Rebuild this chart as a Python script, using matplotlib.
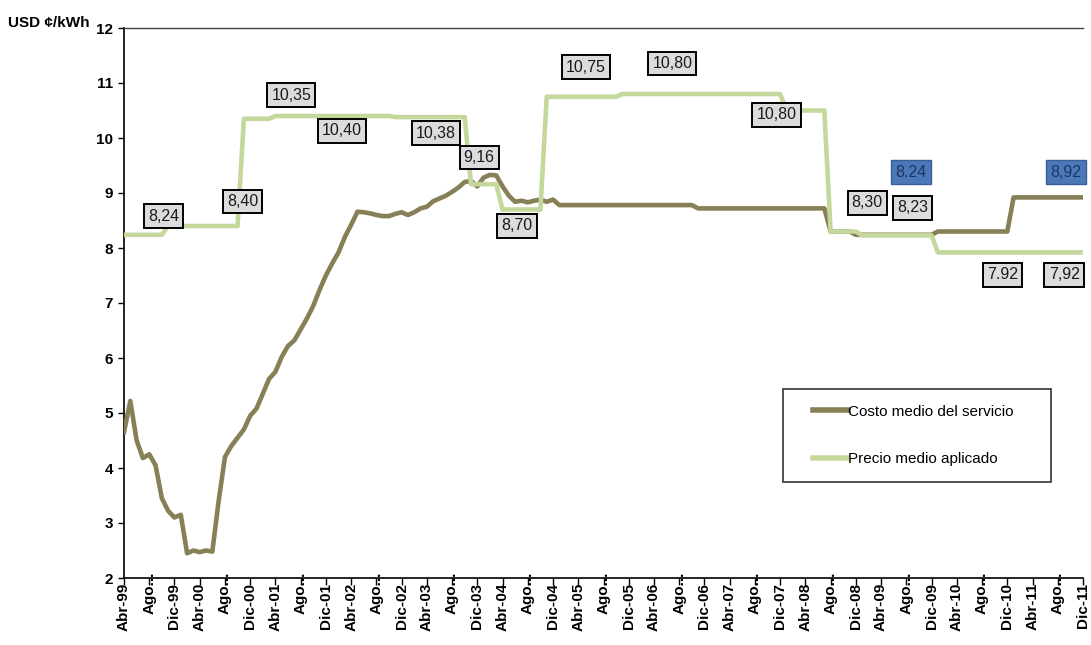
import matplotlib
matplotlib.use("Agg")
import matplotlib.pyplot as plt
from matplotlib.transforms import blended_transform_factory
from matplotlib.legend_handler import HandlerLine2D

# ---------------- data (monthly, Abr-99 .. Dic-11) ----------------
costo = [
    4.65, 5.22, 4.50, 4.18, 4.25, 4.05, 3.45, 3.22, 3.10,                  # 1999 Abr-Dic
    3.15, 2.45, 2.50, 2.47, 2.50, 2.48, 3.40, 4.20, 4.40, 4.55, 4.70, 4.95,  # 2000
    5.08, 5.35, 5.62, 5.75, 6.02, 6.22, 6.32, 6.52, 6.72, 6.95, 7.24, 7.50,  # 2001
    7.72, 7.92, 8.20, 8.42, 8.66, 8.65, 8.63, 8.60, 8.58, 8.58, 8.62, 8.65,  # 2002
    8.60, 8.65, 8.72, 8.75, 8.85, 8.90, 8.95, 9.02, 9.10, 9.20, 9.22, 9.12,  # 2003
    9.28, 9.33, 9.32, 9.12, 8.95, 8.84, 8.86, 8.83, 8.86, 8.88, 8.84, 8.88,  # 2004
    8.78, 8.78, 8.78, 8.78, 8.78, 8.78, 8.78, 8.78, 8.78, 8.78, 8.78, 8.78,  # 2005
    8.78, 8.78, 8.78, 8.78, 8.78, 8.78, 8.78, 8.78, 8.78, 8.78, 8.72, 8.72,  # 2006
    8.72, 8.72, 8.72, 8.72, 8.72, 8.72, 8.72, 8.72, 8.72, 8.72, 8.72, 8.72,  # 2007
    8.72, 8.72, 8.72, 8.72, 8.72, 8.72, 8.72, 8.30, 8.30, 8.30, 8.30, 8.24,  # 2008
    8.24, 8.24, 8.24, 8.24, 8.24, 8.24, 8.24, 8.24, 8.24, 8.24, 8.24, 8.24,  # 2009
    8.30, 8.30, 8.30, 8.30, 8.30, 8.30, 8.30, 8.30, 8.30, 8.30, 8.30, 8.30,  # 2010
    8.92, 8.92, 8.92, 8.92, 8.92, 8.92, 8.92, 8.92, 8.92, 8.92, 8.92, 8.92,  # 2011
]

precio = [
    8.24, 8.24, 8.24, 8.24, 8.24, 8.24, 8.24, 8.40, 8.40,                           # 1999 Abr-Dic
    8.40, 8.40, 8.40, 8.40, 8.40, 8.40, 8.40, 8.40, 8.40, 8.40, 10.35, 10.35,         # 2000
    10.35, 10.35, 10.35, 10.40, 10.40, 10.40, 10.40, 10.40, 10.40, 10.40, 10.40, 10.40,  # 2001
    10.40, 10.40, 10.40, 10.40, 10.40, 10.40, 10.40, 10.40, 10.40, 10.40, 10.38, 10.38,  # 2002
    10.38, 10.38, 10.38, 10.38, 10.38, 10.38, 10.38, 10.38, 10.38, 10.38, 9.16, 9.16,    # 2003
    9.16, 9.16, 9.16, 8.70, 8.70, 8.70, 8.70, 8.70, 8.70, 8.70, 10.75, 10.75,          # 2004
    10.75, 10.75, 10.75, 10.75, 10.75, 10.75, 10.75, 10.75, 10.75, 10.75, 10.80, 10.80,  # 2005
    10.80, 10.80, 10.80, 10.80, 10.80, 10.80, 10.80, 10.80, 10.80, 10.80, 10.80, 10.80,  # 2006
    10.80, 10.80, 10.80, 10.80, 10.80, 10.80, 10.80, 10.80, 10.80, 10.80, 10.80, 10.80,  # 2007
    10.50, 10.50, 10.50, 10.50, 10.50, 10.50, 10.50, 8.30, 8.30, 8.30, 8.30, 8.30,     # 2008
    8.23, 8.23, 8.23, 8.23, 8.23, 8.23, 8.23, 8.23, 8.23, 8.23, 8.23, 8.23,          # 2009
    7.92, 7.92, 7.92, 7.92, 7.92, 7.92, 7.92, 7.92, 7.92, 7.92, 7.92, 7.92,          # 2010
    7.92, 7.92, 7.92, 7.92, 7.92, 7.92, 7.92, 7.92, 7.92, 7.92, 7.92, 7.92,          # 2011
]

tick_labels = [
    "Abr-99", "Ago...", "Dic-99", "Abr-00", "Ago...", "Dic-00", "Abr-01", "Ago...", "Dic-01",
    "Abr-02", "Ago...", "Dic-02", "Abr-03", "Ago...", "Dic-03", "Abr-04", "Ago...", "Dic-04",
    "Abr-05", "Ago...", "Dic-05", "Abr-06", "Ago...", "Dic-06", "Abr-07", "Ago...", "Dic-07",
    "Abr-08", "Ago...", "Dic-08", "Abr-09", "Ago...", "Dic-09", "Abr-10", "Ago...", "Dic-10",
    "Abr-11", "Ago...", "Dic-11",
]

series_names = ["Costo medio del servicio", "Precio medio aplicado"]

# value labels: text and style
label_texts = ["8,24", "8,40", "10,35", "10,40", "10,38", "9,16", "8,70", "10,75",
               "10,80", "10,80", "8,30", "8,23", "8.24", "8,92", "7.92", "7,92"]
label_kind = ["g", "g", "g", "g", "g", "g", "g", "g",
              "g", "g", "g", "g", "b", "b", "g", "g"]
# layout positions of the label boxes (month index, y)
label_pos = [(6.3, 8.58), (18.8, 8.85), (26.5, 10.78), (34.5, 10.13), (49.4, 10.09),
             (56.3, 9.64), (62.3, 8.40), (73.2, 11.29), (86.9, 11.35), (103.4, 10.42),
             (117.8, 8.82), (125.0, 8.73), (124.7, 9.38), (149.3, 9.38),
             (139.2, 7.51), (149.0, 7.51)]

# ---------------- figure ----------------
plt.rcParams["font.family"] = ["Liberation Sans", "DejaVu Sans"]

W, H = 1091, 645
fig = plt.figure(figsize=(W / 100, H / 100), dpi=100)
left_px, right_px, top_px, bot_px = 124, 1083, 28, 578
ax = fig.add_axes([left_px / W, 1 - bot_px / H, (right_px - left_px) / W, (bot_px - top_px) / H])

x = list(range(len(costo)))
c_costo = "#877f55"
c_precio = "#c4d89c"
ax.plot(x, costo, color=c_costo, lw=3.3, solid_joinstyle="round", label=series_names[0], zorder=3)
ax.plot(x, precio, color=c_precio, lw=3.3, solid_joinstyle="round", label=series_names[1], zorder=4)

ax.set_xlim(0, len(costo) - 1)
ax.set_ylim(2, 12)
ax.set_yticks(range(2, 13))
ax.tick_params(axis="y", labelsize=11, length=4, width=1, direction="out", pad=4)
for t in ax.get_yticklabels():
    t.set_fontweight("bold")

tick_pos = [4 * i for i in range(len(tick_labels))]
ax.set_xticks(tick_pos)
ax.set_xticklabels([])
ax.tick_params(axis="x", length=5, width=1, direction="out")

trans = blended_transform_factory(ax.transData, ax.transAxes)
for p, lbl in zip(tick_pos, tick_labels):
    ytop = -5 / 550 if not lbl.startswith("Ago") else 6 / 550
    ax.text(p, ytop, lbl, transform=trans, rotation=90, ha="center", va="top",
            fontsize=11, fontweight="bold", clip_on=False)

ax.spines["right"].set_visible(False)
ax.spines["top"].set_color("#444444")
ax.spines["top"].set_linewidth(1.0)
ax.spines["left"].set_linewidth(1.2)
ax.spines["bottom"].set_linewidth(1.2)

fig.text(8 / W, 1 - 23 / H, "USD ¢/kWh", fontsize=11, fontweight="bold", ha="left", va="center")

for txt, kind, (px, py) in zip(label_texts, label_kind, label_pos):
    if kind == "g":
        ax.text(px, py, txt, ha="center", va="center", fontsize=11.5, color="#1a1a1a", zorder=6,
                bbox=dict(boxstyle="square,pad=0.26", fc="#dcdcdc", ec="black", lw=1.4))
    else:
        ax.text(px, py, txt, ha="center", va="center", fontsize=11.5, color="#1f3564", zorder=6,
                bbox=dict(boxstyle="square,pad=0.26", fc="#4a78b8", ec="#3a5f94", lw=1.0))

leg = ax.legend(loc="upper left", bbox_to_anchor=(0.687, 0.344, 0.28, 0.0), mode="expand",
                frameon=True, fancybox=False, edgecolor="black", fontsize=11,
                handlelength=3.2, handletextpad=0.0, labelspacing=2.2, borderpad=1.05,
                borderaxespad=0.0,
                handler_map={matplotlib.lines.Line2D: HandlerLine2D(xpad=0.9)})
leg.get_frame().set_linewidth(1.2)
for line in leg.get_lines():
    line.set_linewidth(4)

fig.savefig("out.png", dpi=100)
